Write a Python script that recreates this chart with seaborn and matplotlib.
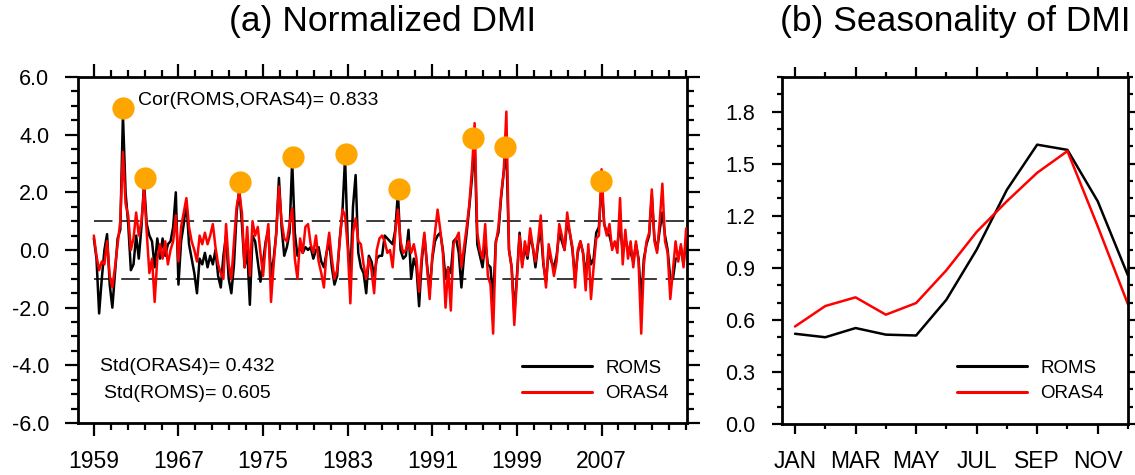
import numpy as np
import pandas as pd
import matplotlib
matplotlib.use("Agg")
import matplotlib.pyplot as plt
from matplotlib.ticker import MultipleLocator, FixedLocator, FormatStrFormatter
import seaborn as sns

# ---------------- data ----------------
start_year = 1959
roms = [0.4, -0.3, -2.2, -1.0, 0.0, 0.55, -1.2, -2.0, -0.8, 0.4,
        0.7, 4.7, 2.0, 0.9, -0.7, -0.5, 0.5, -0.3, 0.8, 2.3,
        0.9, 0.5, 0.3, -0.6, 0.4, -0.3, 0.4, -0.2, 0.2, 0.3,
        0.8, 2.0, -1.2, 0.3, 0.9, 1.7, 0.2, -0.3, -0.8, -1.5,
        -0.3, -0.5, -0.1, -0.6, -0.2, -0.5, 0.0, -0.9, -1.3, -0.2,
        0.5, -1.0, -1.5, -0.5, 1.3, 2.1, 0.9, -0.6, 0.0, -1.9,
        0.5, 0.3, -0.4, -1.1, -0.4, 0.3, 0.7, -0.9, -0.3, 0.6,
        2.5, 0.8, -0.2, 0.1, 0.6, 3.1, 0.6, -0.2, 0.1, -0.1,
        0.1, 0.0, 0.1, -0.3, 0.0, 0.1, -0.4, -0.6, -0.1, 0.3,
        -0.6, -1.2, -0.9, 0.4, 1.3, 3.2, 0.3, -1.0, 1.5, 2.6,
        -0.1, -0.6, -0.8, -1.5, -0.2, -0.4, -0.9, -0.3, -0.2, -0.2,
        0.5, 0.4, 0.3, 0.2, 0.7, 2.0, 0.0, -0.3, -0.2, 0.7,
        -1.0, -0.3, -0.6, -1.95, -0.4, 0.5, -0.5, -1.4, -0.3, 0.3,
        0.5, 0.6, 0.0, -1.0, -0.6, -0.8, 0.3, 0.4, -0.1, -1.3,
        -0.2, 0.6, 1.5, 2.5, 3.8, 0.2, -0.2, -0.6, 0.3, -0.5,
        -0.6, -1.8, 0.3, 0.6, 1.8, 2.7, 3.5, 0.0, -0.6, -2.2,
        -0.9, 0.6, -0.5, 0.1, -0.3, 0.5, 0.1, -0.6, 0.2, 0.7,
        -0.5, -1.1, 0.0, -0.4, -0.6, -0.2, 0.6, 0.3, 0.0, 1.0,
        0.6, 0.0, -1.0, -0.1, 0.3, -0.1, -0.9, 0.0, -0.5, -0.3,
        0.6, 0.8, 2.3, 0.9, 0.6, 0.5, 0.1, 0.2, 0.2, 0.9,
        -0.1, 0.4, 0.0, -0.1, -0.4, 0.2, -0.3, -1.8, -0.3, 0.2,
        0.5, 1.9, 0.4, 0.0, 0.7, 1.3, 0.5, 0.0, -1.0, -1.0,
        -0.3, -0.3, 0.1, -0.5, 0.4]
oras4 = [0.5, -0.2, -0.7, -0.4, -0.5, 0.3, -0.9, -1.3, -0.6, 0.2,
         1.0, 3.4, 1.6, 1.2, 0.0, 0.4, 1.3, 0.5, 1.0, 2.1,
         0.6, -0.8, -0.3, -1.8, -0.3, 0.2, -0.3, 0.3, -0.5, 0.0,
         0.3, 1.2, -0.4, 0.8, 1.3, 1.8, 0.8, 0.3, 0.0, -0.4,
         0.5, 0.2, 0.6, 0.2, 0.5, 0.9, 0.1, -0.5, -0.8, -1.0,
         0.9, -0.5, -1.0, 0.3, 1.5, 2.0, 1.3, -0.6, 0.8, -0.9,
         1.0, 0.5, 0.8, -0.1, -0.9, 0.2, 0.9, -1.8, -0.5, 0.6,
         2.2, 1.0, 0.4, 0.3, 0.9, 1.45, -0.3, -1.0, 0.4, -0.1,
         0.8, 0.9, 0.2, -0.1, 0.5, -0.4, -0.8, -1.3, -0.1, 0.6,
         -0.3, -1.0, -0.7, 0.3, 1.4, 1.2, 0.1, -1.85, 0.6, 1.1,
         0.3, 0.2, -0.5, -1.0, -0.3, -0.7, -1.5, 0.0, 0.4, 0.5,
         0.3, -0.1, 0.0, -0.6, 0.6, 1.4, 0.3, -0.1, 0.0, 0.3,
         -0.1, 0.2, -0.3, -1.45, -0.2, 0.6, -0.6, -1.7, -0.2, 0.6,
         1.4, 0.7, -0.1, -2.0, -0.6, -2.1, 0.2, 0.4, 0.6, -0.6,
         0.1, 0.8, 1.6, 2.8, 4.4, 0.6, 0.0, -0.3, 0.9, -0.9,
         -1.2, -2.9, 0.2, 0.8, 1.9, 2.7, 4.8, 0.0, -0.6, -2.6,
         -1.0, 0.5, -0.6, 0.3, -0.2, 0.75, 0.1, -0.4, 0.3, 1.2,
         -0.4, -1.3, 0.2, -0.3, -0.9, -0.4, 0.9, 0.5, 0.0, 1.3,
         0.6, 0.1, -1.3, 0.0, 0.3, -0.1, -1.4, 0.2, -1.7, -0.6,
         0.4, 0.5, 2.8, 0.9, 0.5, 0.9, 0.0, 0.3, -0.1, 1.8,
         -0.5, 0.7, -0.3, 0.3, -0.6, 0.3, -0.4, -2.9, -0.5, 0.3,
         0.6, 2.1, 0.3, -0.1, 1.0, 2.3, 0.3, -0.1, -1.7, -0.7,
         0.3, -0.4, 0.2, -0.6, 0.75]
# positive IOD events marked by circles
event_years = [1961.75, 1963.8, 1972.8, 1977.85, 1982.83, 1987.85, 1994.88, 1997.9, 2006.95]
event_values = [4.94, 2.49, 2.35, 3.21, 3.32, 2.12, 3.87, 3.56, 2.39]

# seasonality (std by calendar month)
months = ["JAN", "FEB", "MAR", "APR", "MAY", "JUN", "JUL", "AUG", "SEP", "OCT", "NOV", "DEC"]
season_roms = [0.52, 0.50, 0.553, 0.515, 0.51, 0.716, 1.005, 1.35, 1.61, 1.58, 1.284, 0.856]
season_oras4 = [0.562, 0.68, 0.73, 0.63, 0.697, 0.886, 1.107, 1.284, 1.448, 1.573, 1.14, 0.69]

cor_text = "Cor(ROMS,ORAS4)= 0.833"
std_oras_text = "Std(ORAS4)= 0.432"
std_roms_text = "Std(ROMS)= 0.605"

# ---------------- style ----------------
sns.set_style("ticks")
plt.rcParams["font.family"] = ["Liberation Sans", "DejaVu Sans"]
plt.rcParams["axes.unicode_minus"] = False
plt.rcParams["text.color"] = "black"
plt.rcParams["xtick.color"] = "black"
plt.rcParams["ytick.color"] = "black"
plt.rcParams["xtick.labelcolor"] = "black"
plt.rcParams["ytick.labelcolor"] = "black"

fig = plt.figure(figsize=(11.35, 4.75), dpi=100)
axA = fig.add_axes([0.0687, 0.1095, 0.5366, 0.7284])
axB = fig.add_axes([0.689, 0.1074, 0.3048, 0.7305])

n = len(roms)
time = start_year + np.arange(n) / 4.0
dfA = pd.DataFrame({"time": time, "ROMS": roms, "ORAS4": oras4})

xmax = 2015.08
axA.hlines([-1, 1], time[0], xmax, colors="#3a3a3a", linewidth=1.4,
           linestyles=[(0, (9.5, 4.5))], zorder=1)
sns.lineplot(data=dfA, x="time", y="ROMS", ax=axA, color="black", linewidth=1.8,
             label="ROMS", zorder=2)
sns.lineplot(data=dfA, x="time", y="ORAS4", ax=axA, color="#ff0000", linewidth=1.8,
             label="ORAS4", zorder=3)
sns.scatterplot(x=event_years, y=event_values, ax=axA, color="#ffa500", s=256,
                linewidth=0, zorder=5, legend=False)

axA.set_xlim(1957.5, xmax)
axA.set_ylim(-6, 6)
axA.xaxis.set_major_locator(FixedLocator([1959, 1967, 1975, 1983, 1991, 1999, 2007]))
axA.xaxis.set_minor_locator(MultipleLocator(1.6, offset=1959 % 1.6))
axA.yaxis.set_major_locator(MultipleLocator(2))
axA.yaxis.set_minor_locator(MultipleLocator(0.5))
axA.yaxis.set_major_formatter(FormatStrFormatter("%.1f"))
axA.xaxis.set_major_formatter(FormatStrFormatter("%d"))
axA.set_xlabel("")
axA.set_ylabel("")

axA.text(0.0985, 0.9335, cor_text, transform=axA.transAxes, fontsize=14,
         ha="left", va="center")
axA.text(0.0361, 0.1647, std_oras_text, transform=axA.transAxes, fontsize=14,
         ha="left", va="center")
axA.text(0.0427, 0.0838, std_roms_text, transform=axA.transAxes, fontsize=14,
         ha="left", va="center")

legA = axA.legend(loc="center", bbox_to_anchor=(0.849, 0.1214), frameon=False,
                  fontsize=13.5, handlelength=3.75, handletextpad=0.7,
                  labelspacing=0.45, borderpad=0, borderaxespad=0)
for h in legA.get_lines():
    h.set_linewidth(2.2)

# ---------------- panel b ----------------
dfB = pd.DataFrame({"m": np.arange(12), "ROMS": season_roms, "ORAS4": season_oras4})
sns.lineplot(data=dfB, x="m", y="ROMS", ax=axB, color="black", linewidth=1.8, label="ROMS")
sns.lineplot(data=dfB, x="m", y="ORAS4", ax=axB, color="#ff0000", linewidth=1.8, label="ORAS4")
axB.set_xlim(-0.43, 11.0)
axB.set_ylim(0, 2.0)
axB.xaxis.set_major_locator(FixedLocator(list(range(0, 12, 2))))
axB.xaxis.set_minor_locator(FixedLocator(list(range(1, 12, 2))))
axB.set_xticklabels(months[0::2])
axB.yaxis.set_major_locator(FixedLocator([0.0, 0.3, 0.6, 0.9, 1.2, 1.5, 1.8]))
axB.yaxis.set_minor_locator(MultipleLocator(0.1))
axB.yaxis.set_major_formatter(FormatStrFormatter("%.1f"))
axB.set_xlabel("")
axB.set_ylabel("")
legB = axB.legend(loc="center", bbox_to_anchor=(0.718, 0.124), frameon=False,
                  fontsize=13.5, handlelength=3.75, handletextpad=0.7,
                  labelspacing=0.45, borderpad=0, borderaxespad=0)
for h in legB.get_lines():
    h.set_linewidth(2.2)

# ---------------- axes styling ----------------
# (major length, minor length, x-label pad, y-label pad) in points
for ax, maj, mnr, padx, pady in [(axA, 9.4, 5.0, 9.9, 11.3), (axB, 7.2, 3.6, 11.5, 12.2)]:
    for s in ax.spines.values():
        s.set_visible(True)
        s.set_linewidth(2.0)
        s.set_color("black")
    ax.tick_params(which="both", direction="out", top=True, right=True,
                   labeltop=False, labelright=False, width=1.6, color="black")
    ax.tick_params(which="major", length=maj)
    ax.tick_params(which="minor", length=mnr)
    ax.tick_params(axis="x", which="major", labelsize=16.5, pad=padx, labelcolor="black")
    ax.tick_params(axis="y", which="major", labelsize=15.5, pad=pady, labelcolor="black")

fig.text(0.337, 1 - 22 / 475, "(a) Normalized DMI", fontsize=25.5, ha="center", va="center")
fig.text(0.8414, 1 - 22 / 475, "(b) Seasonality of DMI", fontsize=25.5, ha="center", va="center")

fig.savefig("out.png", dpi=100)
